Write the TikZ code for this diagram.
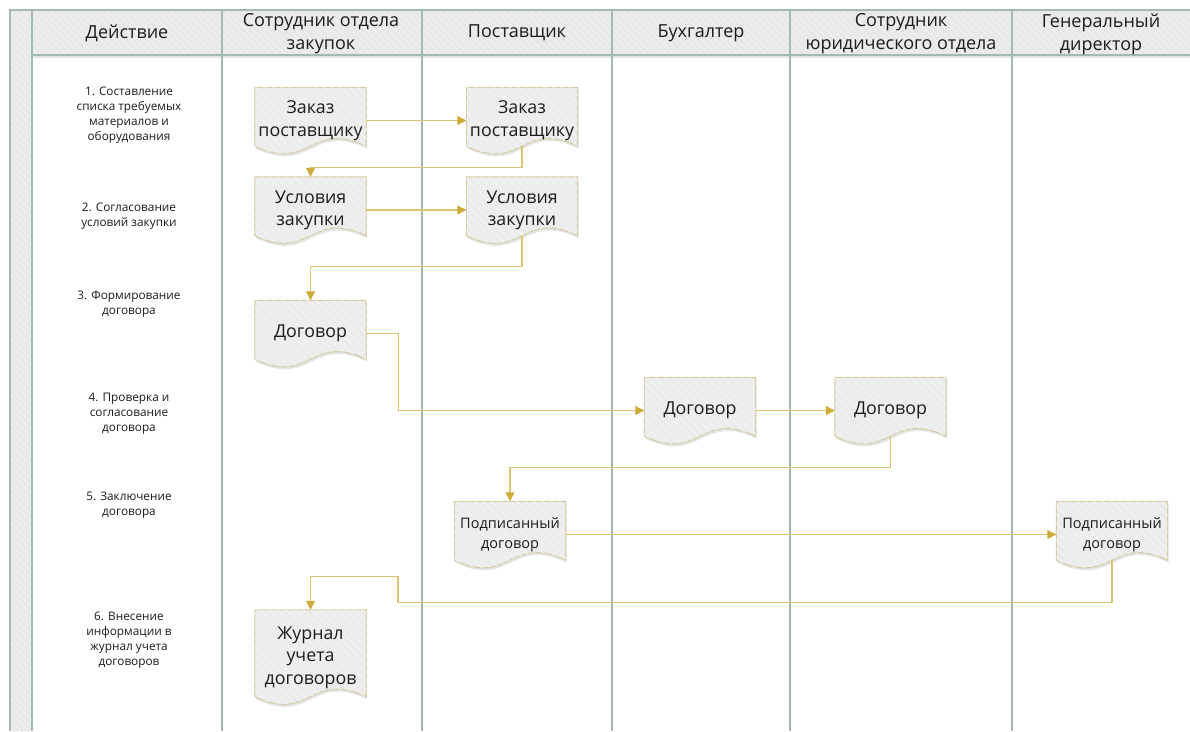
\documentclass[tikz,border=0pt]{standalone}
\usepackage{fontspec}
\setmainfont{Open Sans}
\usetikzlibrary{calc,arrows.meta,patterns.meta,shadows}
\pgfdeclarelayer{grid}
\pgfdeclarelayer{docs}
\pgfsetlayers{grid,docs,main}
\definecolor{gridline}{HTML}{A3B9B4}
\definecolor{headfill}{HTML}{E8E8E8}
\definecolor{hatch}{HTML}{F0F0F0}
\definecolor{docfill}{HTML}{ECECEC}
\definecolor{dochatch}{HTML}{F2F2F2}
\definecolor{docedge}{HTML}{D6CBA0}
\definecolor{flowline}{HTML}{DEC36E}
\definecolor{flowhead}{HTML}{CDAD3A}
\definecolor{ink}{HTML}{1C1C1C}
% text of a document shape, lifted above the wavy bottom edge
\newcommand\doctext[2][7pt]{\raisebox{#1}{\begin{tabular}{@{}c@{}}#2\end{tabular}}}
\tikzset{
  hatched/.style={fill=headfill, postaction={pattern={Lines[angle=-45,distance=5pt,line width=1.2pt]}, pattern color=hatch}},
  lane/.style={draw=gridline, line width=1.3pt},
  head/.style={align=center, text=ink, font=\fontsize{18}{23}\selectfont},
  act/.style={align=center, text=ink, font=\fontsize{11.8}{15}\selectfont},
  doc/.style={rectangle, minimum width=111pt, minimum height=66pt, inner sep=0pt, text=ink, font=\fontsize{17.8}{22.5}\selectfont},
  docsmall/.style={doc, font=\fontsize{14.5}{20}\selectfont},
  docbody/.style={fill=docfill, draw=docedge, line width=1pt,
    postaction={pattern={Lines[angle=-45,distance=6pt,line width=1.2pt]}, pattern color=dochatch},
    drop shadow={opacity=0.2, shadow xshift=1pt, shadow yshift=-2.5pt}},
  flow/.style={draw=flowline, line width=1.1pt, -{Triangle[length=9pt,width=9pt,color=flowhead,fill=flowhead]}},
}
\begin{document}
\begin{tikzpicture}[x=1pt,y=-1pt]
\useasboundingbox (0,0) rectangle (1190,731);

% swimlane frame
\begin{pgfonlayer}{grid}
  \fill[white] (0,0) rectangle (1190,731);
  \path[hatched] (10,10) rectangle (32,731);
  \path[hatched] (32,10) rectangle (1190,55);
  \draw[draw=gridline!35, line width=1.5pt] (32,57) -- (1190,57);
  \draw[lane] (10,731) -- (10,10) -- (1190,10);
  \draw[lane] (32,55) -- (1190,55);
  \foreach \x in {32,222,422,612,790,1012}
    \draw[lane] (\x,10) -- (\x,731);
\end{pgfonlayer}

% column headers
\node[head] (h0) at (127,33) {Действие};
\node[head] (h1) at (321,34) {Сотрудник отдела\\закупок};
\node[head] (h2) at (517,33) {Поставщик};
\node[head] (h3) at (701,33) {Бухгалтер};
\node[head] (h4) at (901,34) {Сотрудник\\юридического отдела};
\node[head] (h5) at (1101,34) {Генеральный\\директор};

% process steps
\node[act] (s1) at (129,115) {1. Составление\\списка требуемых\\материалов и\\оборудования};
\node[act] (s2) at (129,216) {2. Согласование\\условий закупки};
\node[act] (s3) at (129,304) {3. Формирование\\договора};
\node[act] (s4) at (129,414) {4. Проверка и\\согласование\\договора};
\node[act] (s5) at (129,505) {5. Заключение\\договора};
\node[act] (s6) at (129,640) {6. Внесение\\информации в\\журнал учета\\договоров};

% documents
\node[doc] (a1) at (310.5,120.5) {\doctext{Заказ\\поставщику}};
\node[doc] (b1) at (522,120.5) {\doctext{Заказ\\поставщику}};
\node[doc] (a2) at (310.5,210) {\doctext{Условия\\закупки}};
\node[doc] (b2) at (522,210) {\doctext{Условия\\закупки}};
\node[doc] (a3) at (310.5,333.5) {\doctext[8pt]{Договор}};
\node[doc] (c4) at (700,410.5) {\doctext[8pt]{Договор}};
\node[doc] (d4) at (890.5,410.5) {\doctext[8pt]{Договор}};
\node[docsmall] (b5) at (510,534.5) {\doctext[9pt]{Подписанный\\договор}};
\node[docsmall] (e5) at (1112,534.5) {\doctext[9pt]{Подписанный\\договор}};
\node[doc, minimum height=94pt] (a6) at (310.5,657) {\doctext[10pt]{Журнал\\учета\\договоров}};

\begin{pgfonlayer}{docs}
  \foreach \n in {a1,b1,a2,b2,a3,c4,d4,b5,e5,a6}
    \path[docbody] (\n.north west) -- (\n.north east) -- ($(\n.south east)+(0,-7.5)$)
      .. controls ($(\n.south)+(0,-34)$) and ($(\n.south)+(0,19)$) .. ($(\n.south west)+(0,-7.5)$) -- cycle;
\end{pgfonlayer}

% document flow
\draw[flow] (a1.east) -- (b1.west);
\draw[flow] ($(b1.south)+(0,-7.5)$) |- ($(a2.north)+(0,-9)$) -- (a2.north);
\draw[flow] (a2.east) -- (b2.west);
\draw[flow] ($(b2.south)+(0,-7.5)$) |- ($(a3.north)+(0,-34)$) -- (a3.north);
\draw[flow] (a3.east) -- ++(32,0) |- (c4.west);
\draw[flow] (c4.east) -- (d4.west);
\draw[flow] ($(d4.south)+(0,-7.5)$) |- ($(b5.north)+(0,-34)$) -- (b5.north);
\draw[flow] (b5.east) -- (e5.west);
\draw[flow] ($(e5.south)+(0,-7.5)$) -- ++(0,42) -| ($(a6.north)+(87.5,-33)$) -| (a6.north);
\end{tikzpicture}
\end{document}
